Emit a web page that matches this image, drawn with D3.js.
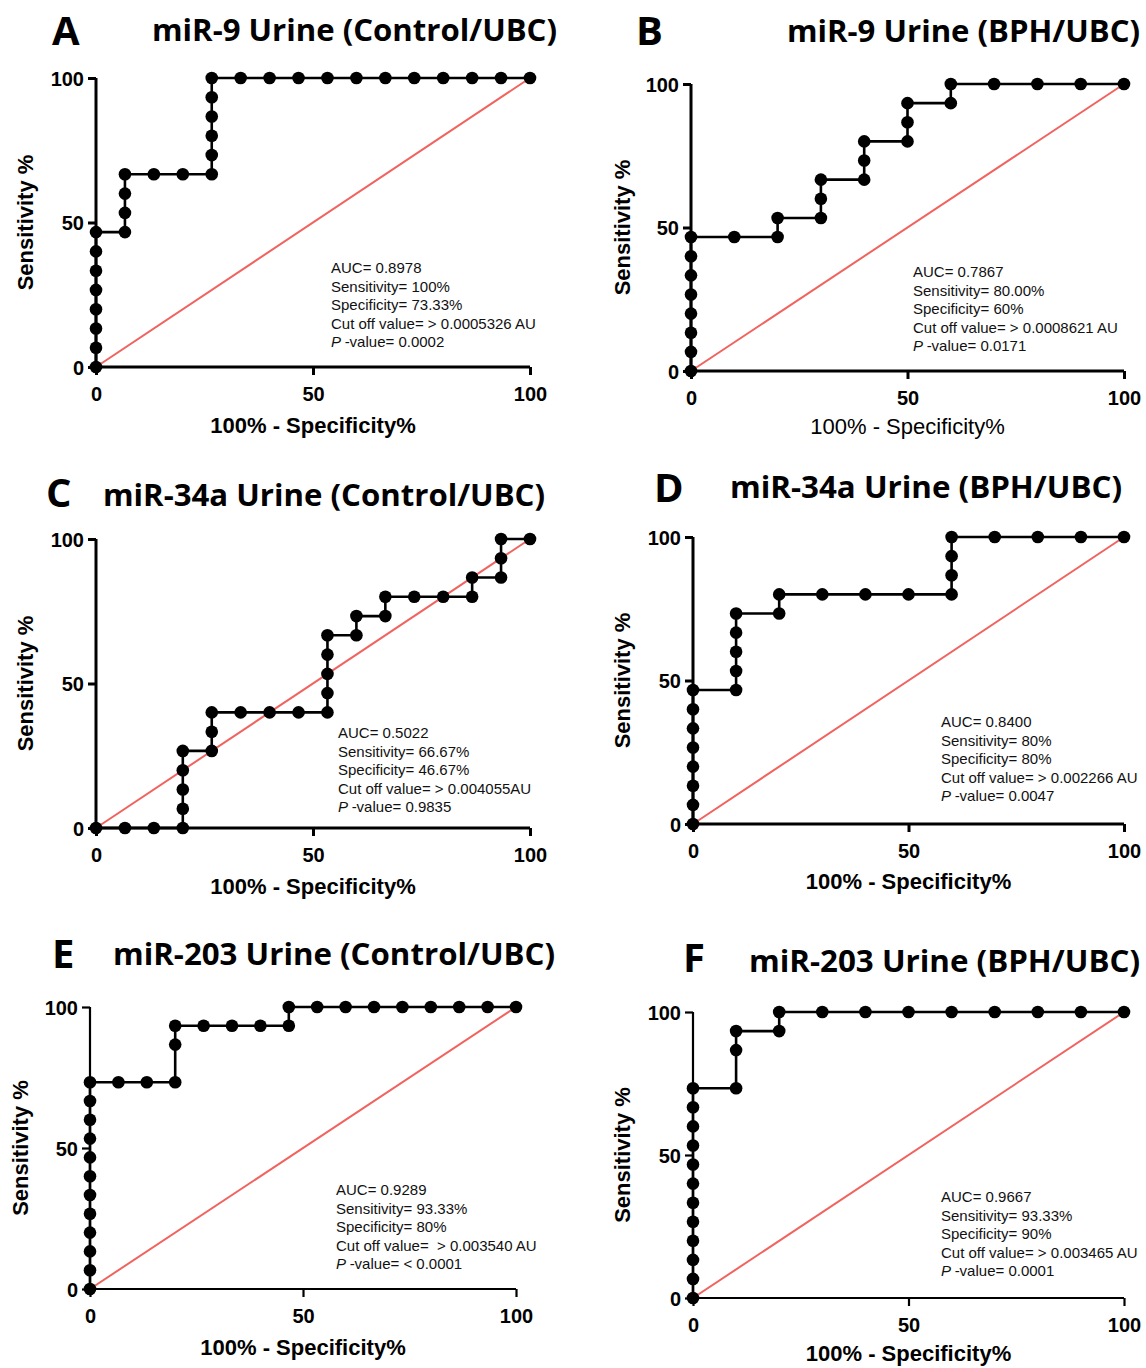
<!DOCTYPE html>
<html>
<head>
<meta charset="utf-8">
<script src="https://cdn.jsdelivr.net/npm/d3@7"></script>
<style>
  body { margin: 0; background: #fff; }
  svg { display: block; }
  .tick-text { font-family: "Liberation Sans", Arial, sans-serif; font-weight: bold; font-size: 20px; }
  .axis-label { font-family: "Liberation Sans", Arial, sans-serif; font-size: 22px; }
  .title { font-family: "Open Sans", sans-serif; font-weight: bold; font-size: 30px; }
  .letter { font-family: "Open Sans", sans-serif; font-weight: bold; font-size: 40px; }
  .stats { font-family: "Liberation Sans", Arial, sans-serif; font-size: 15px; white-space: pre; }
</style>
</head>
<body>
<div id="chart"></div>
<script>
// ROC points: x = 100% - specificity, y = sensitivity
const aFpr = [0, 0, 0, 0, 0, 0, 0, 0, 6.67, 6.67, 6.67, 6.67, 13.33, 20, 26.67, 26.67, 26.67, 26.67, 26.67, 26.67, 33.33, 40, 46.67, 53.33, 60, 66.67, 73.33, 80, 86.67, 93.33, 100];
const aTpr = [0, 6.67, 13.33, 20, 26.67, 33.33, 40, 46.67, 46.67, 53.33, 60, 66.67, 66.67, 66.67, 66.67, 73.33, 80, 86.67, 93.33, 100, 100, 100, 100, 100, 100, 100, 100, 100, 100, 100, 100];

const bFpr = [0, 0, 0, 0, 0, 0, 0, 0, 10, 20, 20, 30, 30, 30, 40, 40, 40, 50, 50, 50, 60, 60, 70, 80, 90, 100];
const bTpr = [0, 6.67, 13.33, 20, 26.67, 33.33, 40, 46.67, 46.67, 46.67, 53.33, 53.33, 60, 66.67, 66.67, 73.33, 80, 80, 86.67, 93.33, 93.33, 100, 100, 100, 100, 100];

const cFpr = [0, 6.67, 13.33, 20, 20, 20, 20, 20, 26.67, 26.67, 26.67, 33.33, 40, 46.67, 53.33, 53.33, 53.33, 53.33, 53.33, 60, 60, 66.67, 66.67, 73.33, 80, 86.67, 86.67, 93.33, 93.33, 93.33, 100];
const cTpr = [0, 0, 0, 0, 6.67, 13.33, 20, 26.67, 26.67, 33.33, 40, 40, 40, 40, 40, 46.67, 53.33, 60, 66.67, 66.67, 73.33, 73.33, 80, 80, 80, 80, 86.67, 86.67, 93.33, 100, 100];

const dFpr = [0, 0, 0, 0, 0, 0, 0, 0, 10, 10, 10, 10, 10, 20, 20, 30, 40, 50, 60, 60, 60, 60, 70, 80, 90, 100];
const dTpr = [0, 6.67, 13.33, 20, 26.67, 33.33, 40, 46.67, 46.67, 53.33, 60, 66.67, 73.33, 73.33, 80, 80, 80, 80, 80, 86.67, 93.33, 100, 100, 100, 100, 100];

const eFpr = [0, 0, 0, 0, 0, 0, 0, 0, 0, 0, 0, 0, 6.67, 13.33, 20, 20, 20, 26.67, 33.33, 40, 46.67, 46.67, 53.33, 60, 66.67, 73.33, 80, 86.67, 93.33, 100];
const eTpr = [0, 6.67, 13.33, 20, 26.67, 33.33, 40, 46.67, 53.33, 60, 66.67, 73.33, 73.33, 73.33, 73.33, 86.67, 93.33, 93.33, 93.33, 93.33, 93.33, 100, 100, 100, 100, 100, 100, 100, 100, 100];

const fFpr = [0, 0, 0, 0, 0, 0, 0, 0, 0, 0, 0, 0, 10, 10, 10, 20, 20, 30, 40, 50, 60, 70, 80, 90, 100];
const fTpr = [0, 6.67, 13.33, 20, 26.67, 33.33, 40, 46.67, 53.33, 60, 66.67, 73.33, 73.33, 86.67, 93.33, 93.33, 100, 100, 100, 100, 100, 100, 100, 100, 100];

const axisTicks = [0, 50, 100];
const referenceLine = [0, 100];

const aStats = ["AUC= 0.8978", "Sensitivity= 100%", "Specificity= 73.33%", "Cut off value= > 0.0005326 AU", "-value= 0.0002"];
const bStats = ["AUC= 0.7867", "Sensitivity= 80.00%", "Specificity= 60%", "Cut off value= > 0.0008621 AU", "-value= 0.0171"];
const cStats = ["AUC= 0.5022", "Sensitivity= 66.67%", "Specificity= 46.67%", "Cut off value= > 0.004055AU", "-value= 0.9835"];
const dStats = ["AUC= 0.8400", "Sensitivity= 80%", "Specificity= 80%", "Cut off value= > 0.002266 AU", "-value= 0.0047"];
const eStats = ["AUC= 0.9289", "Sensitivity= 93.33%", "Specificity= 80%", "Cut off value=  > 0.003540 AU", "-value= < 0.0001"];
const fStats = ["AUC= 0.9667", "Sensitivity= 93.33%", "Specificity= 90%", "Cut off value= > 0.003465 AU", "-value= 0.0001"];

const panels = [
  { letter: "A", title: "miR-9 Urine (Control/UBC)", fpr: aFpr, tpr: aTpr, stats: aStats,
    left: 96, right: 530, top: 78, bottom: 367, letterX: 52, letterY: 45, titleX: 152, titleW: 405, titleY: 41,
    xLabelY: 433, xLabelBold: true, yLabelX: 33, statsX: 331, statsY: 273, axisWidth: 3 },
  { letter: "B", title: "miR-9 Urine (BPH/UBC)", fpr: bFpr, tpr: bTpr, stats: bStats,
    left: 691, right: 1124, top: 84, bottom: 371, letterX: 636, letterY: 45, titleX: 787, titleW: 353, titleY: 42,
    xLabelY: 434, xLabelBold: false, yLabelX: 630, statsX: 913, statsY: 277, axisWidth: 3 },
  { letter: "C", title: "miR-34a Urine (Control/UBC)", fpr: cFpr, tpr: cTpr, stats: cStats,
    left: 96, right: 530, top: 539, bottom: 828, letterX: 46, letterY: 507, titleX: 103, titleW: 442, titleY: 506,
    xLabelY: 894, xLabelBold: true, yLabelX: 33, statsX: 338, statsY: 738, axisWidth: 3 },
  { letter: "D", title: "miR-34a Urine (BPH/UBC)", fpr: dFpr, tpr: dTpr, stats: dStats,
    left: 693, right: 1124, top: 537, bottom: 824, letterX: 654, letterY: 502, titleX: 730, titleW: 392, titleY: 498,
    xLabelY: 889, xLabelBold: true, yLabelX: 630, statsX: 941, statsY: 727, axisWidth: 3 },
  { letter: "E", title: "miR-203 Urine (Control/UBC)", fpr: eFpr, tpr: eTpr, stats: eStats,
    left: 90, right: 516, top: 1007, bottom: 1289, letterX: 52, letterY: 968, titleX: 113, titleW: 442, titleY: 965,
    xLabelY: 1355, xLabelBold: true, yLabelX: 28, statsX: 336, statsY: 1195, axisWidth: 2.2 },
  { letter: "F", title: "miR-203 Urine (BPH/UBC)", fpr: fFpr, tpr: fTpr, stats: fStats,
    left: 693, right: 1124, top: 1012, bottom: 1298, letterX: 683, letterY: 972, titleX: 749, titleW: 391, titleY: 972,
    xLabelY: 1361, xLabelBold: true, yLabelX: 630, statsX: 941, statsY: 1202, axisWidth: 2.2 },
];

const width = 1146;
const height = 1368;
const lineHeight = 18.5;

const svg = d3.select("#chart")
  .append("svg")
  .attr("width", width)
  .attr("height", height);

svg.append("rect").attr("width", width).attr("height", height).attr("fill", "#fff");

function drawPanel(p) {
  const x = d3.scaleLinear().domain([0, 100]).range([p.left, p.right]);
  const y = d3.scaleLinear().domain([0, 100]).range([p.bottom, p.top]);
  const g = svg.append("g").attr("class", "panel");

  // panel letter + title
  g.append("text").attr("class", "letter")
    .attr("x", p.letterX).attr("y", p.letterY)
    .text(p.letter);
  g.append("text").attr("class", "title")
    .attr("x", p.titleX).attr("y", p.titleY)
    .attr("textLength", p.titleW)
    .attr("lengthAdjust", "spacingAndGlyphs")
    .text(p.title);

  // axes
  const xAxis = d3.axisBottom(x).tickValues(axisTicks).tickSize(8).tickPadding(7);
  const yAxis = d3.axisLeft(y).tickValues(axisTicks).tickSize(8).tickPadding(4);

  const gx = g.append("g").attr("transform", `translate(0,${p.bottom})`).call(xAxis);
  const gy = g.append("g").attr("transform", `translate(${p.left},0)`).call(yAxis);

  [gx, gy].forEach((ax) => {
    ax.select(".domain").attr("stroke", "#000").attr("stroke-width", p.axisWidth);
    ax.selectAll(".tick line").attr("stroke", "#000").attr("stroke-width", p.axisWidth);
    ax.selectAll(".tick text")
      .attr("class", "tick-text")
      .attr("fill", "#000");
  });
  gx.selectAll(".tick text").attr("dy", "0.95em");
  gy.selectAll(".tick text").attr("dy", "0.36em");

  // plain axis lines, no outer ticks
  gx.select(".domain").attr("d", `M${p.left},0H${p.right}`);
  gy.select(".domain").attr("d", `M0,${p.bottom}V${p.top}`);

  // axis labels
  g.append("text").attr("class", "axis-label")
    .attr("x", (p.left + p.right) / 2).attr("y", p.xLabelY)
    .attr("text-anchor", "middle")
    .attr("font-weight", p.xLabelBold ? "bold" : "normal")
    .text("100% - Specificity%");
  g.append("text").attr("class", "axis-label")
    .attr("transform", `translate(${p.yLabelX},${(p.top + p.bottom) / 2}) rotate(-90)`)
    .attr("text-anchor", "middle")
    .attr("font-weight", "bold")
    .text("Sensitivity %");

  // chance line
  g.append("line")
    .attr("x1", x(referenceLine[0])).attr("y1", y(referenceLine[0]))
    .attr("x2", x(referenceLine[1])).attr("y2", y(referenceLine[1]))
    .attr("stroke", "#f0635e").attr("stroke-width", 2);

  // ROC curve
  const pts = p.fpr.map((d, i) => [d, p.tpr[i]]);
  g.append("path")
    .datum(pts)
    .attr("fill", "none")
    .attr("stroke", "#000")
    .attr("stroke-width", 2.6)
    .attr("d", d3.line().x((d) => x(d[0])).y((d) => y(d[1])));

  g.selectAll(".dot")
    .data(pts)
    .join("circle")
    .attr("class", "dot")
    .attr("cx", (d) => x(d[0]))
    .attr("cy", (d) => y(d[1]))
    .attr("r", 6.3)
    .attr("fill", "#000");

  // stats annotation
  const st = g.append("text").attr("class", "stats").attr("fill", "#111");
  p.stats.forEach((s, i) => {
    const t = st.append("tspan").attr("x", p.statsX).attr("y", p.statsY + i * lineHeight);
    if (i === p.stats.length - 1) {
      t.attr("font-style", "italic").text("P ");
      st.append("tspan").text(s);
    } else {
      t.text(s);
    }
  });
}

panels.forEach(drawPanel);
</script>
</body>
</html>
